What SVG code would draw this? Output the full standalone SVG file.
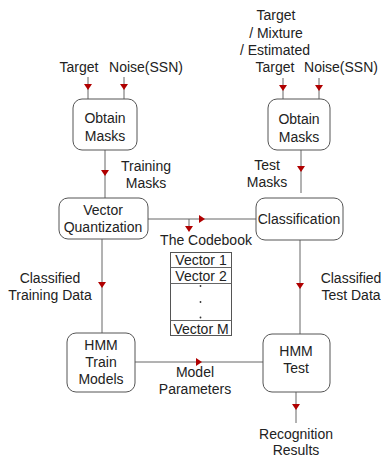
<svg xmlns="http://www.w3.org/2000/svg" width="383" height="457" viewBox="0 0 383 457">
<style>
text{font-family:"Liberation Sans",Arial,sans-serif;font-size:14px;fill:#222;text-anchor:middle}
.box{fill:#fff;stroke:#555;stroke-width:1}
.ln{stroke:#666;stroke-width:1;fill:none}
.ah{fill:#b00000}
.dot{fill:#333}
</style>
<defs>
<path id="ad" class="ah" d="M-4,-3 L4,-3 L0,3 Z"/>
<path id="ar" class="ah" d="M-3,-4 L3,0 L-3,4 Z"/>
</defs>
<rect width="383" height="457" fill="#fff"/>
<g id="connectors">
<line class="ln" x1="88" y1="77" x2="88" y2="99"/>
<line class="ln" x1="124" y1="77" x2="124" y2="99"/>
<line class="ln" x1="283" y1="78" x2="283" y2="99"/>
<line class="ln" x1="319" y1="78" x2="319" y2="99"/>
<line class="ln" x1="105" y1="150" x2="105" y2="198"/>
<line class="ln" x1="301" y1="150" x2="301" y2="193"/>
<line class="ln" x1="148" y1="219" x2="256" y2="219"/>
<line class="ln" x1="189" y1="219" x2="189" y2="228"/>
<line class="ln" x1="102" y1="239" x2="102" y2="333"/>
<line class="ln" x1="300" y1="240" x2="300" y2="334"/>
<line class="ln" x1="135" y1="362" x2="263" y2="362"/>
<line class="ln" x1="296" y1="392" x2="296" y2="423"/>
<use href="#ad" x="88" y="87"/>
<use href="#ad" x="124" y="87"/>
<use href="#ad" x="283" y="88"/>
<use href="#ad" x="319" y="88"/>
<use href="#ad" x="105" y="173"/>
<use href="#ad" x="301" y="169"/>
<use href="#ar" x="202" y="219"/>
<use href="#ad" x="189" y="229"/>
<use href="#ad" x="102" y="285"/>
<use href="#ad" x="300" y="286"/>
<use href="#ar" x="199" y="362"/>
<use href="#ad" x="296" y="407"/>
</g>
<g id="inputs-left">
<text x="79" y="72">Target</text>
<text x="146" y="72">Noise(SSN)</text>
</g>
<g id="inputs-right">
<text x="276" y="20">Target</text>
<text x="276" y="38">/ Mixture</text>
<text x="275" y="55">/ Estimated</text>
<text x="275" y="72">Target</text>
<text x="341" y="72">Noise(SSN)</text>
</g>
<g id="obtain-left">
<rect class="box" x="73" y="99" width="64" height="51" rx="9"/>
<text x="105" y="123">Obtain</text>
<text x="105" y="141">Masks</text>
</g>
<g id="obtain-right">
<rect class="box" x="268" y="99" width="62" height="51" rx="9"/>
<text x="299" y="124">Obtain</text>
<text x="299" y="142">Masks</text>
</g>
<g id="label-training-masks">
<text x="146" y="171">Training</text>
<text x="146" y="188">Masks</text>
</g>
<g id="label-test-masks">
<text x="267" y="170">Test</text>
<text x="267" y="187">Masks</text>
</g>
<g id="vq">
<rect class="box" x="59" y="198" width="89" height="41" rx="9"/>
<text x="103" y="215">Vector</text>
<text x="103" y="232">Quantization</text>
</g>
<g id="classification">
<rect class="box" x="256" y="198" width="87" height="42" rx="9"/>
<text x="299" y="224">Classification</text>
</g>
<g id="codebook">
<text x="206" y="245">The Codebook</text>
<rect class="box" x="170.5" y="252.5" width="61" height="83"/>
<line class="ln" x1="170.5" y1="267.5" x2="231.5" y2="267.5" stroke="#555"/>
<line class="ln" x1="170.5" y1="283.5" x2="231.5" y2="283.5" stroke="#555"/>
<line class="ln" x1="170.5" y1="320.5" x2="231.5" y2="320.5" stroke="#555"/>
<text x="201" y="265">Vector 1</text>
<text x="201" y="281">Vector 2</text>
<circle class="dot" cx="200.5" cy="286" r="0.9"/>
<circle class="dot" cx="200.5" cy="302" r="0.9"/>
<circle class="dot" cx="200.5" cy="317.5" r="0.9"/>
<text x="201" y="334">Vector M</text>
</g>
<g id="label-classified-training">
<text x="50" y="283">Classified</text>
<text x="50" y="300">Training Data</text>
</g>
<g id="label-classified-test">
<text x="351" y="283">Classified</text>
<text x="351" y="300">Test Data</text>
</g>
<g id="hmm-train">
<rect class="box" x="67" y="333" width="68" height="59" rx="9"/>
<text x="101" y="350">HMM</text>
<text x="101" y="367">Train</text>
<text x="101" y="384">Models</text>
</g>
<g id="hmm-test">
<rect class="box" x="263" y="334" width="67" height="58" rx="9"/>
<text x="296" y="356">HMM</text>
<text x="296" y="373">Test</text>
</g>
<g id="label-model-parameters">
<text x="195" y="377">Model</text>
<text x="195" y="394">Parameters</text>
</g>
<g id="output">
<text x="296" y="439">Recognition</text>
<text x="296" y="455">Results</text>
</g>
</svg>
